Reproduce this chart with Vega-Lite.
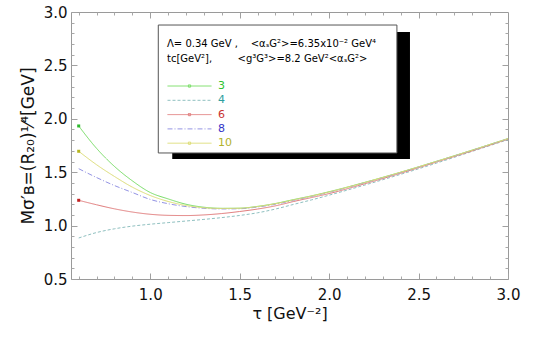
{
  "$schema": "https://vega.github.io/schema/vega-lite/v6.json",
  "width": 437,
  "height": 267,
  "autosize": {"type": "none"},
  "padding": {"left": 71, "top": 12, "right": 37, "bottom": 61},
  "config": {"view": {"stroke": "#9a9a9a"}, "font": "DejaVu Sans"},
  "data": {"values": [
    {"n":"3","tau":0.6,"M":1.933},{"n":"3","tau":0.7,"M":1.723},{"n":"3","tau":0.8,"M":1.554},{"n":"3","tau":0.9,"M":1.419},{"n":"3","tau":1.0,"M":1.31},{"n":"3","tau":1.1,"M":1.25},{"n":"3","tau":1.2,"M":1.2},{"n":"3","tau":1.3,"M":1.172},{"n":"3","tau":1.4,"M":1.162},{"n":"3","tau":1.5,"M":1.163},{"n":"3","tau":1.6,"M":1.18},{"n":"3","tau":1.7,"M":1.207},{"n":"3","tau":1.8,"M":1.243},{"n":"3","tau":1.9,"M":1.278},{"n":"3","tau":2.0,"M":1.317},{"n":"3","tau":2.2,"M":1.405},{"n":"3","tau":2.4,"M":1.5},{"n":"3","tau":2.6,"M":1.602},{"n":"3","tau":2.8,"M":1.707},{"n":"3","tau":3.0,"M":1.815},
    {"n":"4","tau":0.6,"M":0.884},{"n":"4","tau":0.7,"M":0.935},{"n":"4","tau":0.8,"M":0.97},{"n":"4","tau":0.9,"M":0.995},{"n":"4","tau":1.0,"M":1.013},{"n":"4","tau":1.1,"M":1.028},{"n":"4","tau":1.2,"M":1.043},{"n":"4","tau":1.3,"M":1.058},{"n":"4","tau":1.4,"M":1.075},{"n":"4","tau":1.5,"M":1.095},{"n":"4","tau":1.6,"M":1.12},{"n":"4","tau":1.7,"M":1.155},{"n":"4","tau":1.8,"M":1.198},{"n":"4","tau":1.9,"M":1.24},{"n":"4","tau":2.0,"M":1.285},{"n":"4","tau":2.2,"M":1.38},{"n":"4","tau":2.4,"M":1.48},{"n":"4","tau":2.6,"M":1.585},{"n":"4","tau":2.8,"M":1.695},{"n":"4","tau":3.0,"M":1.805},
    {"n":"6","tau":0.6,"M":1.237},{"n":"6","tau":0.7,"M":1.195},{"n":"6","tau":0.8,"M":1.157},{"n":"6","tau":0.9,"M":1.127},{"n":"6","tau":1.0,"M":1.106},{"n":"6","tau":1.1,"M":1.096},{"n":"6","tau":1.2,"M":1.094},{"n":"6","tau":1.3,"M":1.1},{"n":"6","tau":1.4,"M":1.113},{"n":"6","tau":1.5,"M":1.132},{"n":"6","tau":1.6,"M":1.155},{"n":"6","tau":1.7,"M":1.185},{"n":"6","tau":1.8,"M":1.225},{"n":"6","tau":1.9,"M":1.262},{"n":"6","tau":2.0,"M":1.3},{"n":"6","tau":2.2,"M":1.392},{"n":"6","tau":2.4,"M":1.49},{"n":"6","tau":2.6,"M":1.595},{"n":"6","tau":2.8,"M":1.7},{"n":"6","tau":3.0,"M":1.81},
    {"n":"8","tau":0.6,"M":1.533},{"n":"8","tau":0.7,"M":1.45},{"n":"8","tau":0.8,"M":1.375},{"n":"8","tau":0.9,"M":1.31},{"n":"8","tau":1.0,"M":1.245},{"n":"8","tau":1.1,"M":1.205},{"n":"8","tau":1.2,"M":1.178},{"n":"8","tau":1.3,"M":1.162},{"n":"8","tau":1.4,"M":1.156},{"n":"8","tau":1.5,"M":1.158},{"n":"8","tau":1.6,"M":1.174},{"n":"8","tau":1.7,"M":1.2},{"n":"8","tau":1.8,"M":1.236},{"n":"8","tau":1.9,"M":1.273},{"n":"8","tau":2.0,"M":1.312},{"n":"8","tau":2.2,"M":1.402},{"n":"8","tau":2.4,"M":1.497},{"n":"8","tau":2.6,"M":1.6},{"n":"8","tau":2.8,"M":1.705},{"n":"8","tau":3.0,"M":1.813},
    {"n":"10","tau":0.6,"M":1.696},{"n":"10","tau":0.7,"M":1.57},{"n":"10","tau":0.8,"M":1.46},{"n":"10","tau":0.9,"M":1.36},{"n":"10","tau":1.0,"M":1.282},{"n":"10","tau":1.1,"M":1.226},{"n":"10","tau":1.2,"M":1.188},{"n":"10","tau":1.3,"M":1.167},{"n":"10","tau":1.4,"M":1.16},{"n":"10","tau":1.5,"M":1.162},{"n":"10","tau":1.6,"M":1.178},{"n":"10","tau":1.7,"M":1.205},{"n":"10","tau":1.8,"M":1.24},{"n":"10","tau":1.9,"M":1.276},{"n":"10","tau":2.0,"M":1.315},{"n":"10","tau":2.2,"M":1.404},{"n":"10","tau":2.4,"M":1.5},{"n":"10","tau":2.6,"M":1.601},{"n":"10","tau":2.8,"M":1.706},{"n":"10","tau":3.0,"M":1.814}
  ]},
  "layer": [
    {
      "data": {"values": [{}]},
      "mark": {"type": "rect", "fill": "#000000"},
      "encoding": {
        "x": {"datum": 1.123, "type": "quantitative",
          "axis": {"orient": "top", "title": null, "labels": false, "domain": false, "grid": false,
            "values": [0.6,0.7,0.8,0.9,1.1,1.2,1.3,1.4,1.6,1.7,1.8,1.9,2.1,2.2,2.3,2.4,2.6,2.7,2.8,2.9],
            "tickSize": -3, "tickColor": "#a8a8a8"}},
        "x2": {"datum": 2.452},
        "y": {"datum": 2.813, "type": "quantitative",
          "axis": {"orient": "right", "title": null, "labels": false, "domain": false, "grid": false,
            "values": [0.6,0.7,0.8,0.9,1.1,1.2,1.3,1.4,1.6,1.7,1.8,1.9,2.1,2.2,2.3,2.4,2.6,2.7,2.8,2.9],
            "tickSize": -3, "tickColor": "#a8a8a8"}},
        "y2": {"datum": 1.624}
      }
    },
    {
      "data": {"values": [{}]},
      "mark": {"type": "rect", "fill": "#ffffff", "stroke": "#555555", "strokeWidth": 1},
      "encoding": {
        "x": {"datum": 1.045, "type": "quantitative",
          "axis": {"orient": "bottom", "title": null, "labels": false, "domain": false, "grid": false,
            "values": [0.6,0.7,0.8,0.9,1.1,1.2,1.3,1.4,1.6,1.7,1.8,1.9,2.1,2.2,2.3,2.4,2.6,2.7,2.8,2.9],
            "tickSize": -3, "tickColor": "#a8a8a8"}},
        "x2": {"datum": 2.379},
        "y": {"datum": 2.878, "type": "quantitative",
          "axis": {"orient": "left", "title": null, "labels": false, "domain": false, "grid": false,
            "values": [0.6,0.7,0.8,0.9,1.1,1.2,1.3,1.4,1.6,1.7,1.8,1.9,2.1,2.2,2.3,2.4,2.6,2.7,2.8,2.9],
            "tickSize": -3, "tickColor": "#a8a8a8"}},
        "y2": {"datum": 1.68}
      }
    },
    {
      "mark": {"type": "line", "interpolate": "monotone", "strokeWidth": 1},
      "encoding": {
        "x": {"field": "tau", "type": "quantitative",
          "scale": {"domain": [0.557, 3.0], "nice": false, "zero": false},
          "axis": {"orient": "bottom", "title": "τ [GeV⁻²]",
            "values": [1.0, 1.5, 2.0, 2.5, 3.0], "format": ".1f",
            "tickSize": -6, "tickColor": "#a0a0a0", "domain": false, "grid": false, "labelOverlap": false, "labelFlush": false, "labelBound": false,
            "labelFontSize": 15, "labelColor": "#111111", "labelPadding": 14,
            "titleFontSize": 16, "titleFontWeight": "normal", "titleColor": "#111111", "titlePadding": 3}},
        "y": {"field": "M", "type": "quantitative",
          "scale": {"domain": [0.5, 3.0], "nice": false, "zero": false},
          "axis": {"orient": "left", "title": "Mσ′ʙ=(R₂₀)¹⁄⁴[GeV]",
            "values": [0.5, 1.0, 1.5, 2.0, 2.5, 3.0], "format": ".1f",
            "tickSize": -6, "tickColor": "#a0a0a0", "domain": false, "grid": false, "labelOverlap": false, "labelFlush": false, "labelBound": false,
            "labelFontSize": 15, "labelColor": "#111111", "labelPadding": 10,
            "titleFontSize": 17, "titleFontWeight": "normal", "titleColor": "#111111", "titlePadding": 6}},
        "color": {"field": "n", "type": "nominal",
          "scale": {"domain": ["3","4","6","8","10"], "range": ["#74dc62","#8fc0c0","#e07a7a","#9494e4","#dcdc74"]},
          "legend": {
            "title": ["Λ= 0.34 GeV ,\u00a0\u00a0\u00a0\u00a0<αₛG²>=6.35x10⁻² GeV⁴", "tc[GeV²],\u00a0\u00a0\u00a0\u00a0\u00a0\u00a0\u00a0\u00a0<g³G³>=8.2 GeV²<αₛG²>"],
            "orient": "none", "legendX": 96, "legendY": 27, "padding": 0,
            "titleFont": "DejaVu Sans", "titleFontSize": 10, "titleFontWeight": "normal", "titleColor": "#000000",
            "titleLineHeight": 15, "titlePadding": 16, "titleLimit": 400, "titleAnchor": "start",
            "symbolType": "M-1,0H7", "symbolSize": 121, "symbolStrokeWidth": 1,
            "labelFontSize": 11, "labelOffset": 39, "rowPadding": 3.3,
            "encode": {
              "labels": {"update": {"fill": {"signal": "datum.value=='3'?'#2fc42f':datum.value=='4'?'#2e9e9e':datum.value=='6'?'#c83232':datum.value=='8'?'#3434c8':'#b2b22c'"}}},
              "symbols": {"update": {"shape": {"signal": "(datum.value=='3'||datum.value=='6'||datum.value=='10') ? 'M-1,0H7M2.8,-0.2H3.2V0.2H2.8Z' : 'M-1,0H7'"}}}
            }
          }},
        "strokeDash": {"field": "n", "type": "nominal",
          "scale": {"domain": ["3","4","6","8","10"], "range": [[1,0],[3,2],[1,0],[5,2,1,2],[1,0]]},
          "legend": {
            "title": ["Λ= 0.34 GeV ,\u00a0\u00a0\u00a0\u00a0<αₛG²>=6.35x10⁻² GeV⁴", "tc[GeV²],\u00a0\u00a0\u00a0\u00a0\u00a0\u00a0\u00a0\u00a0<g³G³>=8.2 GeV²<αₛG²>"],
            "orient": "none", "legendX": 96, "legendY": 27, "padding": 0,
            "titleFont": "DejaVu Sans", "titleFontSize": 10, "titleFontWeight": "normal", "titleColor": "#000000",
            "titleLineHeight": 15, "titlePadding": 16, "titleLimit": 400, "titleAnchor": "start",
            "symbolType": "M-1,0H7", "symbolSize": 121, "symbolStrokeWidth": 1,
            "labelFontSize": 11, "labelOffset": 39, "rowPadding": 3.3,
            "encode": {
              "labels": {"update": {"fill": {"signal": "datum.value=='3'?'#2fc42f':datum.value=='4'?'#2e9e9e':datum.value=='6'?'#c83232':datum.value=='8'?'#3434c8':'#b2b22c'"}}},
              "symbols": {"update": {"shape": {"signal": "(datum.value=='3'||datum.value=='6'||datum.value=='10') ? 'M-1,0H7M2.8,-0.2H3.2V0.2H2.8Z' : 'M-1,0H7'"}}}
            }
          }}
      }
    },
    {
      "transform": [{"filter": "datum.tau == 0.6 && (datum.n == '3' || datum.n == '6' || datum.n == '10')"}],
      "mark": {"type": "square", "size": 9, "opacity": 1},
      "encoding": {
        "x": {"field": "tau", "type": "quantitative",
          "axis": {"orient": "top", "title": null, "labels": false, "domain": false, "grid": false,
            "values": [1.0, 1.5, 2.0, 2.5], "tickSize": -6, "tickColor": "#a0a0a0"}},
        "y": {"field": "M", "type": "quantitative",
          "axis": {"orient": "right", "title": null, "labels": false, "domain": false, "grid": false,
            "values": [1.0, 1.5, 2.0, 2.5], "tickSize": -6, "tickColor": "#a0a0a0"}},
        "fill": {"field": "n", "type": "nominal",
          "scale": {"domain": ["3","6","10"], "range": ["#2db82d","#c02020","#b5b520"]},
          "legend": null}
      }
    }
  ],
  "resolve": {"axis": {"x": "independent", "y": "independent"}}
}
